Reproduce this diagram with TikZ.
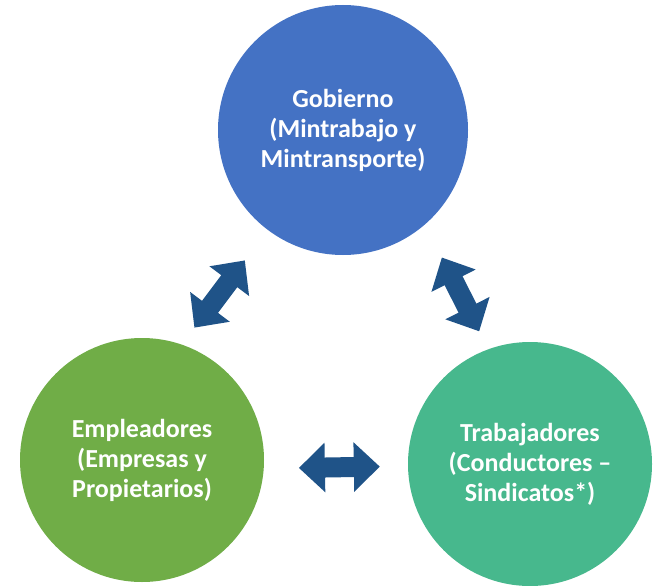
\documentclass[tikz,border=0pt]{standalone}
\usepackage{fontspec}
\setmainfont{Carlito}
\usetikzlibrary{arrows.meta}
\definecolor{gobblue}{HTML}{4472C4}
\definecolor{empgreen}{HTML}{70AD47}
\definecolor{tragreen}{HTML}{47B88D}
\definecolor{linkblue}{HTML}{1F5388}
\begin{document}
\begin{tikzpicture}[x=1pt, y=-1pt,
            actor/.style={circle, inner sep=0pt, text=white, align=center,
                font=\bfseries\fontsize{26}{30}\selectfont},
            link/.style={linkblue, line width=20pt,
                {Triangle[length=26pt, width=48pt]}-{Triangle[length=26pt, width=48pt]}}]
            \useasboundingbox[fill=white] (0,0) rectangle (656,586);
            \node[actor, fill=gobblue, minimum size=250pt] (gob) at (343,130) {Gobierno\\(Mintrabajo y\\Mintransporte)};
            \node[actor, fill=empgreen, minimum size=244pt] (emp) at (142,460) {Empleadores\\(Empresas y\\Propietarios)};
            \node[actor, fill=tragreen, minimum size=244pt] (tra) at (530,464) {Trabajadores\\(Conductores --\\Sindicatos*)};

            \draw[link, shorten <=21pt, shorten >=38pt] (emp.71) -- (gob.233);
            \draw[link, shorten <=37pt, shorten >=20pt] (gob.311) -- (tra.110);
            \draw[link, shorten <=35pt, shorten >=28pt] (emp.-4) -- (tra.181);
        \end{tikzpicture}
\end{document}
